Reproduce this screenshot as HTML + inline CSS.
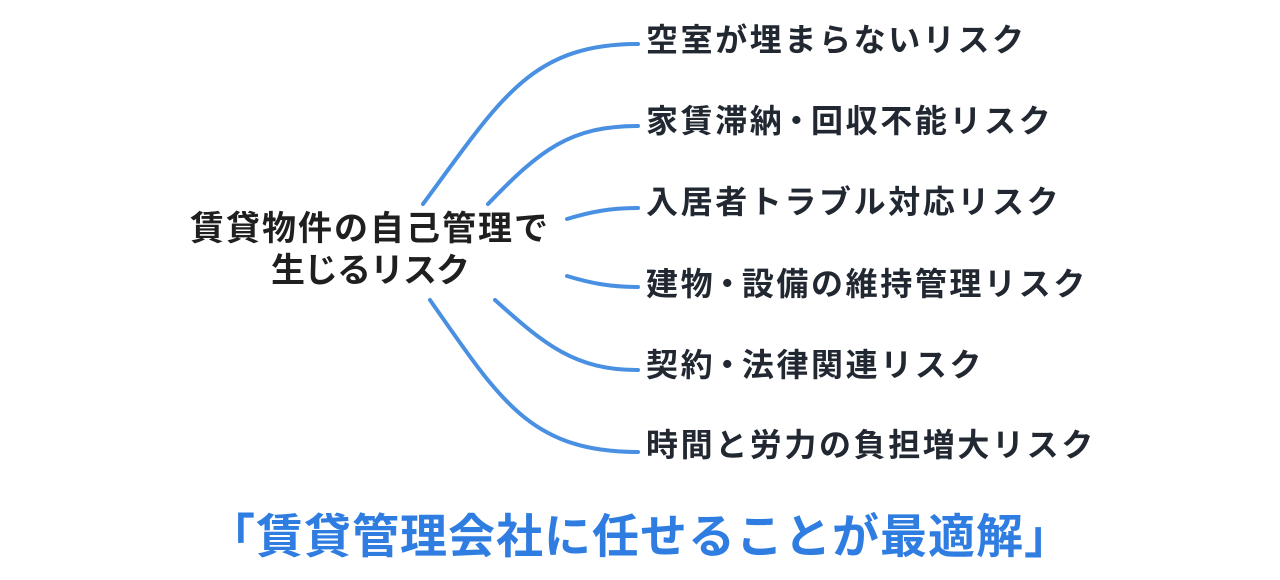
<!DOCTYPE html>
<html><head><meta charset="utf-8"><style>
html,body{margin:0;padding:0;background:#fff;}
body{width:1280px;height:580px;position:relative;overflow:hidden;font-family:"Liberation Sans","Noto Sans CJK JP",sans-serif;}
.l{position:absolute;left:646px;font-size:32px;font-weight:bold;color:#222831;letter-spacing:2.6px;line-height:40px;white-space:nowrap;}
.d{margin:0 -4px;}
.c{position:absolute;left:170px;width:400px;text-align:center;font-size:34px;font-weight:bold;color:#1f1f1f;letter-spacing:2px;line-height:42px;top:208px;}
.c2{letter-spacing:-1px;}
.b{position:absolute;left:0;width:1280px;text-align:center;top:508px;font-size:47px;font-weight:bold;color:#2f7de0;letter-spacing:1px;line-height:58px;white-space:nowrap;}
</style></head><body>
<svg width="1280" height="580" style="position:absolute;left:0;top:0" fill="none" stroke="#4a90e2" stroke-width="4" stroke-linecap="round">
<path d="M423,204 C500,100 530,44 638,44"/>
<path d="M488,204 C540,150 570,126 638,126"/>
<path d="M567,219 C590,212 610,208 638,208"/>
<path d="M567,276 C590,283 610,287 638,287"/>
<path d="M495,300 C545,345 575,370 638,370"/>
<path d="M430,300 C500,400 530,452 638,452"/>
</svg>
<div class="c">賃貸物件の自己管理で<br><span class="c2">生じるリスク</span></div>
<div class="l" style="top:20px">空室が埋まらないリスク</div>
<div class="l" style="top:101px">家賃滞納<span class="d">・</span>回収不能リスク</div>
<div class="l" style="top:182px">入居者トラブル対応リスク</div>
<div class="l" style="top:264px">建物<span class="d">・</span>設備の維持管理リスク</div>
<div class="l" style="top:345px">契約<span class="d">・</span>法律関連リスク</div>
<div class="l" style="top:425px">時間と労力の負担増大リスク</div>
<div class="b">「賃貸管理会社に任せることが最適解」</div>
</body></html>
